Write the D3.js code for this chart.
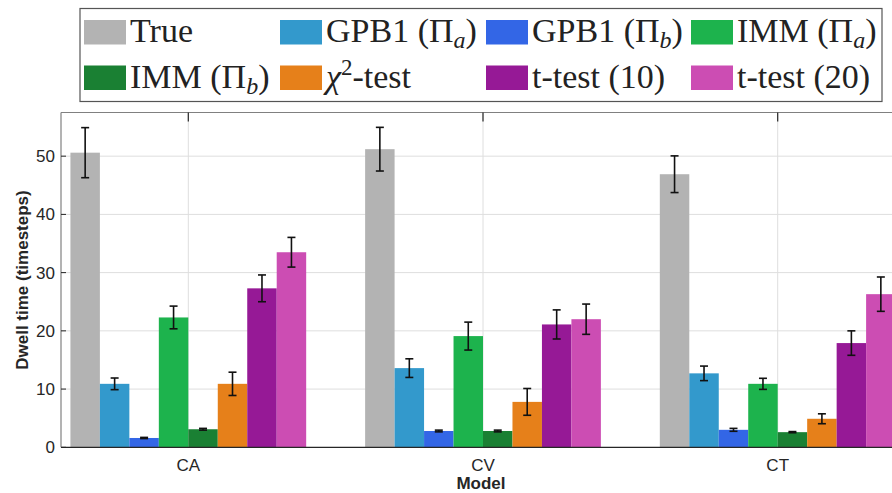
<!DOCTYPE html>
<html>
<head>
<meta charset="utf-8">
<script src="https://cdn.jsdelivr.net/npm/d3@7"></script>
<style>
  body { margin: 0; background: #fff; }
  svg { display: block; }
</style>
</head>
<body>
<svg width="892" height="493"></svg>
<script>
// categories and series
var models = ["CA", "CV", "CT"];
var series = ["True", "GPB1a", "GPB1b", "IMMa", "IMMb", "chi2", "t10", "t20"];
var colors = ["#b3b3b3", "#3399cc", "#3366e6", "#1db34d", "#1a8033", "#e6801a", "#961996", "#cc4db3"];

// mean dwell time per model, one array per series (CA, CV, CT)
var trueVals  = [50.6, 51.2, 46.9];
var gpb1aVals = [10.9, 13.6, 12.7];
var gpb1bVals = [1.6, 2.8, 3.0];
var immaVals  = [22.3, 19.1, 10.9];
var immbVals  = [3.1, 2.8, 2.6];
var chi2Vals  = [10.9, 7.8, 4.9];
var t10Vals   = [27.3, 21.1, 17.9];
var t20Vals   = [33.5, 22.0, 26.3];

// error bar half widths
var trueErr  = [4.3, 3.75, 3.15];
var gpb1aErr = [1.0, 1.6, 1.25];
var gpb1bErr = [0.1, 0.15, 0.25];
var immaErr  = [1.95, 2.4, 0.95];
var immbErr  = [0.15, 0.15, 0.1];
var chi2Err  = [2.0, 2.3, 0.85];
var t10Err   = [2.3, 2.5, 2.1];
var t20Err   = [2.55, 2.6, 2.95];

var yTicks = [0, 10, 20, 30, 40, 50];

var allVals = [trueVals, gpb1aVals, gpb1bVals, immaVals, immbVals, chi2Vals, t10Vals, t20Vals];
var allErr = [trueErr, gpb1aErr, gpb1bErr, immaErr, immbErr, chi2Err, t10Err, t20Err];

var bars = [];
models.forEach(function(m, i) {
    series.forEach(function(s, j) {
        bars.push({ model: m, series: s, value: allVals[j][i], err: allErr[j][i], color: colors[j] });
    });
});

var svg = d3.select("svg");
var plotLeft = 61, plotTop = 112.5, plotBottom = 447.3;
var axisGray = "#808080";

var x = d3.scalePoint().domain(models).range([188.3, 777.7]);
var step = x.step();
var xs = d3.scaleBand().domain(series).range([-0.4 * step, 0.4 * step]);
var y = d3.scaleLinear().domain([0, 57.5]).range([plotBottom, plotTop]);

// grid
svg.append("g")
    .selectAll("line").data(yTicks.slice(1)).enter()
    .append("line")
    .attr("x1", plotLeft).attr("x2", 892)
    .attr("y1", function(d) { return y(d); })
    .attr("y2", function(d) { return y(d); })
    .attr("stroke", "#dedede").attr("stroke-width", 1);
svg.append("g")
    .selectAll("line").data(models).enter()
    .append("line")
    .attr("x1", function(d) { return x(d); })
    .attr("x2", function(d) { return x(d); })
    .attr("y1", plotTop).attr("y2", plotBottom)
    .attr("stroke", "#dedede").attr("stroke-width", 1);

// bars
svg.append("g")
    .selectAll("rect").data(bars).enter()
    .append("rect")
    .attr("x", function(d) { return x(d.model) + xs(d.series); })
    .attr("width", xs.bandwidth())
    .attr("y", function(d) { return y(d.value); })
    .attr("height", function(d) { return y(0) - y(d.value); })
    .attr("fill", function(d) { return d.color; });

// error bars
var eb = svg.append("g").attr("stroke", "#111").attr("stroke-width", 1.6);
bars.forEach(function(d) {
    var cx = x(d.model) + xs(d.series) + xs.bandwidth() / 2;
    var y1 = y(d.value + d.err), y2 = y(d.value - d.err);
    eb.append("line").attr("x1", cx).attr("x2", cx).attr("y1", y1).attr("y2", y2);
    eb.append("line").attr("x1", cx - 4).attr("x2", cx + 4).attr("y1", y1).attr("y2", y1);
    eb.append("line").attr("x1", cx - 4).attr("x2", cx + 4).attr("y1", y2).attr("y2", y2);
});

// baseline
svg.append("line")
    .attr("x1", plotLeft).attr("x2", 892)
    .attr("y1", y(0)).attr("y2", y(0))
    .attr("stroke", "#262626").attr("stroke-width", 1.2);

// axes box
svg.append("line")
    .attr("x1", plotLeft).attr("x2", plotLeft).attr("y1", plotTop).attr("y2", plotBottom)
    .attr("stroke", axisGray).attr("stroke-width", 1.2);
svg.append("line")
    .attr("x1", plotLeft).attr("x2", 892).attr("y1", plotTop).attr("y2", plotTop)
    .attr("stroke", axisGray).attr("stroke-width", 1.2);

// y ticks (inside) and labels
var yg = svg.append("g");
yg.selectAll("line").data(yTicks).enter()
    .append("line")
    .attr("x1", plotLeft).attr("x2", plotLeft + 5)
    .attr("y1", function(d) { return y(d); })
    .attr("y2", function(d) { return y(d); })
    .attr("stroke", "#262626");
yg.selectAll("text").data(yTicks).enter()
    .append("text")
    .attr("x", plotLeft - 6)
    .attr("y", function(d) { return y(d); })
    .attr("dy", "0.35em")
    .attr("text-anchor", "end")
    .attr("font-family", "Liberation Sans, Arial, sans-serif")
    .attr("font-size", "17px")
    .attr("fill", "#262626")
    .text(function(d) { return d; });

// top ticks at categories
svg.append("g")
    .selectAll("line").data(models).enter()
    .append("line")
    .attr("x1", function(d) { return x(d); })
    .attr("x2", function(d) { return x(d); })
    .attr("y1", plotTop).attr("y2", plotTop + 9)
    .attr("stroke", "#262626").attr("stroke-width", 1.2);

// x labels
svg.append("g")
    .selectAll("text").data(models).enter()
    .append("text")
    .attr("x", function(d) { return x(d); })
    .attr("y", 471)
    .attr("text-anchor", "middle")
    .attr("font-family", "Liberation Sans, Arial, sans-serif")
    .attr("font-size", "17px")
    .attr("fill", "#262626")
    .text(function(d) { return d; });

svg.append("text")
    .attr("x", 481).attr("y", 489)
    .attr("text-anchor", "middle")
    .attr("font-family", "Liberation Sans, Arial, sans-serif")
    .attr("font-size", "17px")
    .attr("font-weight", "bold")
    .attr("fill", "#262626")
    .text("Model");

svg.append("text")
    .attr("transform", "translate(28, 280) rotate(-90)")
    .attr("text-anchor", "middle")
    .attr("font-family", "Liberation Sans, Arial, sans-serif")
    .attr("font-size", "17px")
    .attr("font-weight", "bold")
    .attr("fill", "#262626")
    .text("Dwell time (timesteps)");

// legend
var legendEntries = [
    { base: "True", sub: null, tail: "" },
    { base: "GPB1 (\u03A0", sub: "a", tail: ")" },
    { base: "GPB1 (\u03A0", sub: "b", tail: ")" },
    { base: "IMM (\u03A0", sub: "a", tail: ")" },
    { base: "IMM (\u03A0", sub: "b", tail: ")" },
    { chi: true },
    { base: "t-test (10)", sub: null, tail: "" },
    { base: "t-test (20)", sub: null, tail: "" }
];
var colX = [84, 280, 486, 691];
var rowY = [20, 65.5];

svg.append("rect")
    .attr("x", 80).attr("y", 8.5).attr("width", 802).attr("height", 93)
    .attr("fill", "#fff").attr("stroke", "#555").attr("stroke-width", 1.2);

var lg = svg.append("g")
    .attr("font-family", "Liberation Serif, Times New Roman, serif")
    .attr("font-size", "34px")
    .attr("fill", "#222");

legendEntries.forEach(function(e, i) {
    var cx = colX[i % 4], ry = rowY[Math.floor(i / 4)];
    lg.append("rect")
        .attr("x", cx).attr("y", ry).attr("width", 42).attr("height", 24.5)
        .attr("fill", colors[i]);
    var t = lg.append("text").attr("x", cx + 46).attr("y", ry + 22);
    if (e.chi) {
        t.append("tspan").attr("font-style", "italic").text("\u03C7");
        t.append("tspan").attr("font-size", "23px").attr("dy", -13).text("2");
        t.append("tspan").attr("dy", 13).text("-test");
    } else {
        t.append("tspan").text(e.base);
        if (e.sub) {
            t.append("tspan").attr("font-size", "24px").attr("font-style", "italic").attr("dy", 6).text(e.sub);
            t.append("tspan").attr("dy", -6).text(e.tail);
        }
    }
});
</script>
</body>
</html>
